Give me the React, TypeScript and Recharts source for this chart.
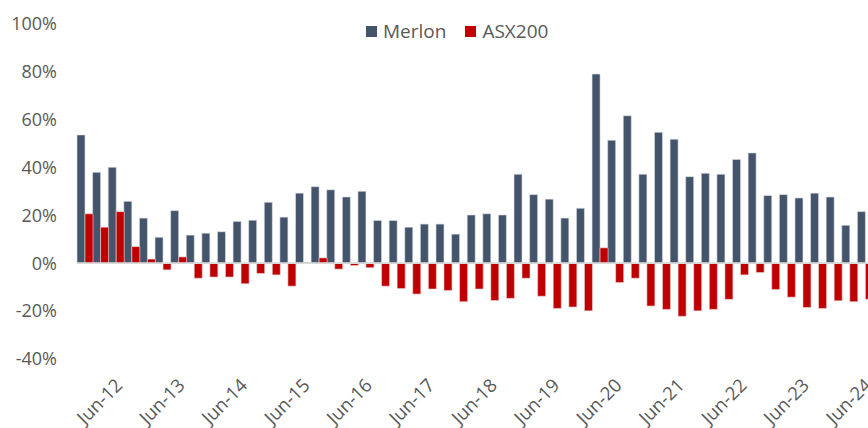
import React from 'react';
import { BarChart, Bar, XAxis, YAxis, Legend, ReferenceLine } from 'recharts';

// quarter ends, Dec-11 .. Jun-24
const quarters = [
  'Dec-11', 'Mar-12', 'Jun-12', 'Sep-12', 'Dec-12', 'Mar-13', 'Jun-13', 'Sep-13', 'Dec-13',
  'Mar-14', 'Jun-14', 'Sep-14', 'Dec-14', 'Mar-15', 'Jun-15', 'Sep-15', 'Dec-15',
  'Mar-16', 'Jun-16', 'Sep-16', 'Dec-16', 'Mar-17', 'Jun-17', 'Sep-17', 'Dec-17',
  'Mar-18', 'Jun-18', 'Sep-18', 'Dec-18', 'Mar-19', 'Jun-19', 'Sep-19', 'Dec-19',
  'Mar-20', 'Jun-20', 'Sep-20', 'Dec-20', 'Mar-21', 'Jun-21', 'Sep-21', 'Dec-21',
  'Mar-22', 'Jun-22', 'Sep-22', 'Dec-22', 'Mar-23', 'Jun-23', 'Sep-23', 'Dec-23',
  'Mar-24', 'Jun-24',
];

const merlon = [
  53.5, 37.9, 40.0, 25.8, 18.8, 10.8, 21.9, 11.7, 12.5,
  13.1, 17.4, 17.9, 25.4, 19.2, 29.2, 31.9, 30.6,
  27.6, 30.0, 17.8, 17.8, 15.0, 16.3, 16.3, 12.1,
  20.1, 20.6, 20.1, 37.1, 28.6, 26.7, 18.8, 22.9,
  78.9, 51.3, 61.5, 37.1, 54.6, 51.7, 36.1, 37.5,
  37.1, 43.3, 46.0, 28.2, 28.6, 27.2, 29.2, 27.6,
  15.8, 21.5,
];

const asx200 = [
  20.6, 15.0, 21.5, 6.9, 1.7, -2.8, 2.6, -6.3, -5.8,
  -5.8, -8.6, -4.3, -4.9, -9.6, 0.2, 2.2, -2.5,
  -1.0, -1.9, -9.6, -10.6, -12.9, -10.8, -11.4, -16.1,
  -10.8, -15.6, -14.7, -6.3, -13.8, -18.9, -18.3, -19.9,
  6.4, -8.1, -6.3, -17.9, -19.3, -22.2, -19.9, -19.3,
  -15.1, -4.9, -3.9, -11.0, -14.2, -18.5, -18.9, -15.7,
  -16.1, -15.1,
];

const yTicks = [-40, -20, 0, 20, 40, 60, 80, 100];

const data = quarters.map((q, i) => ({ q, merlon: merlon[i], asx: asx200[i] }));

const FONT = '"Open Sans", sans-serif';
const GREY = '#595959';
const NAVY = '#44546A';
const RED = '#C00000';

const JunTick = (props: any) => {
  const { x, y, payload } = props;
  if (!String(payload.value).startsWith('Jun')) return <g />;
  return (
    <g transform={`translate(${x + 3},${y + 23})`}>
      <text
        x={0}
        y={0}
        dy="0.35em"
        textAnchor="end"
        transform="rotate(-45)"
        fill={GREY}
        fontSize={18.5}
        fontFamily={FONT}
      >
        {payload.value}
      </text>
    </g>
  );
};

const renderLegend = () => (
  <div style={{ display: 'flex', alignItems: 'center', fontFamily: FONT, fontSize: 19, color: GREY }}>
    <span style={{ width: 11, height: 11, background: NAVY, display: 'inline-block', marginRight: 6 }} />
    <span style={{ marginRight: 19 }}>Merlon</span>
    <span style={{ width: 11, height: 11, background: RED, display: 'inline-block', marginRight: 6 }} />
    <span>ASX200</span>
  </div>
);

export default function App() {
  return (
    <div style={{ position: 'absolute', left: 0, top: 0, width: 868, height: 428, overflow: 'hidden', background: '#fff' }}>
      <BarChart
        width={873}
        height={428}
        data={data}
        margin={{ top: 23.5, right: 0, left: 0, bottom: 0 }}
        barCategoryGap={0}
        barGap={0}
      >
        <XAxis
          dataKey="q"
          interval={0}
          axisLine={false}
          tickLine={false}
          tickSize={0}
          tickMargin={0}
          height={69}
          tick={<JunTick />}
        />
        <YAxis
          width={77}
          domain={[-40, 100]}
          ticks={yTicks}
          axisLine={false}
          tickLine={false}
          tickSize={0}
          tickMargin={20}
          tickFormatter={(v: number) => `${v}%`}
          tick={{ fill: GREY, fontSize: 18, fontFamily: FONT }}
        />
        <Legend
          verticalAlign="middle"
          align="center"
          content={renderLegend}
          wrapperStyle={{ top: 18, left: 366, width: 'auto', height: 'auto' }}
        />
        <Bar dataKey="merlon" name="Merlon" fill={NAVY} stroke="#dde1e6" strokeWidth={0.6} isAnimationActive={false} />
        <Bar dataKey="asx" name="ASX200" fill={RED} stroke="#e6d6d6" strokeWidth={0.6} isAnimationActive={false} />
        <ReferenceLine y={0} stroke="#d9d9d9" strokeWidth={1.8} />
      </BarChart>
    </div>
  );
}
